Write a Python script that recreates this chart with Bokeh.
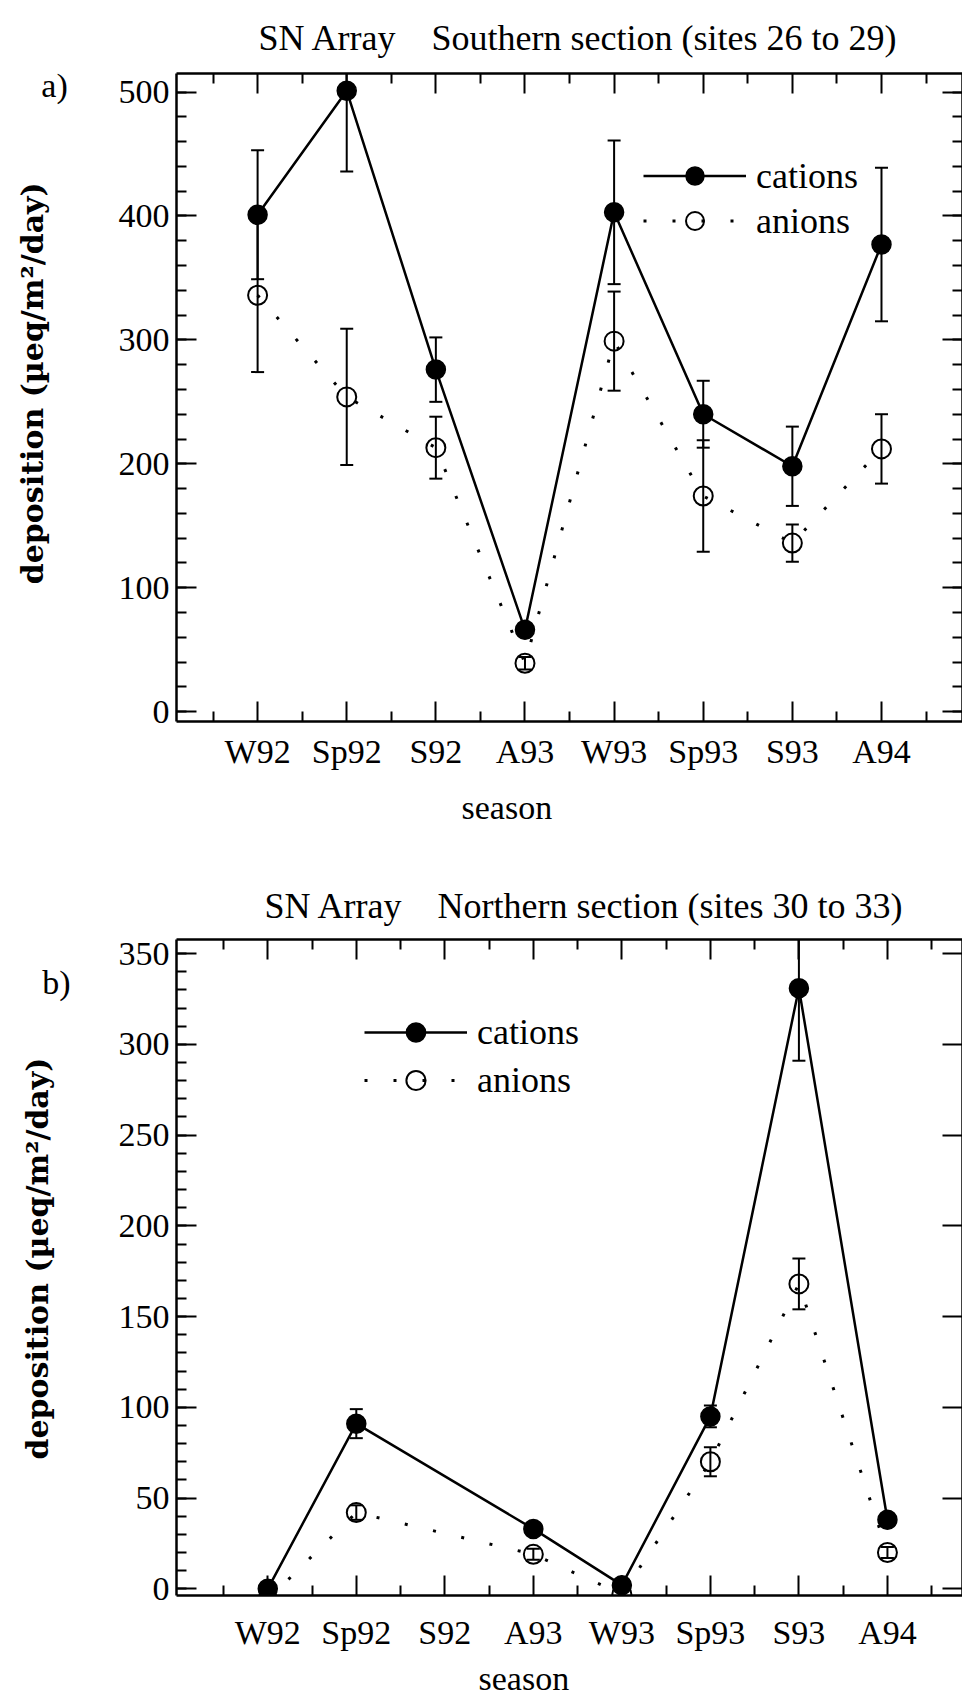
import math
from bokeh.plotting import figure
from bokeh.models import (ColumnDataSource, FixedTicker, LinearAxis, Legend,
                          LegendItem, Title, Label, Range1d)
from bokeh.layouts import column, row
from bokeh.embed import file_html
from bokeh.resources import INLINE

# ---------------- data ----------------
seasons = ["W92", "Sp92", "S92", "A93", "W93", "Sp93", "S93", "A94"]
season_pos = [1, 2, 3, 4, 5, 6, 7, 8]

# a) Southern section (sites 26 to 29)
south_cations = [401, 501, 276, 66, 403, 240, 198, 377]
south_cations_err = [52, 65, 26, 0, 58, 27, 32, 62]
south_anions = [336, 254, 213, 39, 299, 174, 136, 212]
south_anions_err = [62, 55, 25, 5, 40, 45, 15, 28]

# b) Northern section (sites 30 to 33) - no S92 value
north_cations = [0, 91, None, 33, 2, 95, 331, 38]
north_cations_err = [0, 8, None, 0, 0, 6, 40, 0]
north_anions = [-6, 42, None, 19, -3, 70, 168, 20]
north_anions_err = [0, 4, None, 3, 0, 8, 14, 3]

south_y_major = [0, 100, 200, 300, 400, 500]
south_y_minor = list(range(0, 501, 20))
north_y_major = [0, 50, 100, 150, 200, 250, 300, 350]
north_y_minor = list(range(0, 351, 10))

y_label = "deposition (\u00b5eq/m\u00b2/day)"

SERIF = "Liberation Serif"
FS = "34px"
H = 850          # height of each panel row
SIDE_W = 90      # width of the side strip holding the y label and panel tag


def make_source(vals, errs, with_err_only=False):
    d = dict(x=[], y=[], lo=[], hi=[])
    for xk, v, e in zip(season_pos, vals, errs):
        if v is None:
            continue
        if with_err_only and not e:
            continue
        d["x"].append(xk)
        d["y"].append(v)
        d["lo"].append(v - e)
        d["hi"].append(v + e)
    return ColumnDataSource(d)


def style_axis(ax):
    ax.axis_line_width = 2.5
    ax.axis_line_color = "black"
    ax.major_tick_line_width = 2
    ax.minor_tick_line_width = 2
    ax.major_tick_line_color = "black"
    ax.minor_tick_line_color = "black"
    ax.major_tick_in = 20
    ax.major_tick_out = 0
    ax.minor_tick_in = 10
    ax.minor_tick_out = 0
    ax.major_label_text_font = SERIF
    ax.major_label_text_font_size = FS
    ax.major_label_text_color = "black"


def side_strip(main, tag, tag_xy, ylab_xy):
    # shares the main panel's y range, so its frame lines up with the main frame
    s = figure(width=SIDE_W, height=H, output_backend="svg", toolbar_location=None,
               x_range=Range1d(0, SIDE_W), y_range=main.y_range,
               x_axis_type=None, y_axis_type=None,
               min_border=0, min_border_left=0, min_border_right=0)
    s.outline_line_color = None
    s.grid.visible = False
    s.add_layout(Label(x=tag_xy[0], y=tag_xy[1], text=tag, text_font=SERIF,
                       text_font_size=FS, text_align="center",
                       text_baseline="middle", text_color="black"))
    s.add_layout(Label(x=ylab_xy[0], y=ylab_xy[1], text=y_label,
                       angle=math.pi / 2, text_font="DejaVu Serif",
                       text_font_size="30px", text_font_style="bold",
                       text_align="center", text_baseline="middle",
                       text_color="black"))
    return s


def make_panel(title_text, cat, cat_err, an, an_err,
               yr, y_major, y_minor, right_minor, xr, b_top, b_bottom,
               legend_loc, legend_row, title_offset, title_standoff,
               tick_standoff, season_offset, season_standoff):
    p = figure(width=962 - SIDE_W, height=H, output_backend="svg",
               toolbar_location=None,
               x_range=Range1d(*xr), y_range=Range1d(*yr),
               min_border_left=86, min_border_right=0,
               min_border_top=b_top, min_border_bottom=b_bottom)
    p.outline_line_color = None
    p.grid.visible = False
    p.background_fill_color = "white"
    p.border_fill_color = "white"

    bottom = p.below[0]
    left = p.left[0]

    xt = FixedTicker(ticks=season_pos, minor_ticks=[k + 0.5 for k in range(0, 9)])
    bottom.ticker = xt
    bottom.major_label_overrides = {k: s for k, s in zip(season_pos, seasons)}
    left.ticker = FixedTicker(ticks=y_major, minor_ticks=y_minor)

    top = LinearAxis(ticker=xt, major_label_overrides={k: "" for k in season_pos})
    p.add_layout(top, "above")
    right = LinearAxis(ticker=FixedTicker(ticks=y_major,
                                          minor_ticks=y_minor if right_minor else []),
                       major_label_overrides={k: "" for k in y_major})
    p.add_layout(right, "right")

    for ax in (bottom, left, top, right):
        style_axis(ax)
    for ax in (top, right):
        ax.major_label_text_font_size = "1px"
        ax.major_label_standoff = 0

    bottom.major_label_standoff = tick_standoff
    left.major_label_standoff = 7

    p.title = Title(text=title_text, align="left", offset=title_offset,
                    text_font=SERIF, text_font_size="36px", text_font_style="normal",
                    text_color="black", standoff=title_standoff)
    p.add_layout(Title(text="season", align="left", offset=season_offset,
                       text_font=SERIF, text_font_size=FS, text_font_style="normal",
                       text_color="black", standoff=season_standoff), "below")

    cs = make_source(cat, cat_err)
    ans = make_source(an, an_err)
    cse = make_source(cat, cat_err, True)
    ase = make_source(an, an_err, True)

    for s in (ase, cse):
        p.segment(x0="x", y0="lo", x1="x", y1="hi", source=s,
                  line_color="black", line_width=2)
        p.scatter(x="x", y="lo", source=s, marker="dash", size=13,
                  line_color="black", line_width=2)
        p.scatter(x="x", y="hi", source=s, marker="dash", size=13,
                  line_color="black", line_width=2)

    cl = p.line(x="x", y="y", source=cs, line_color="black", line_width=2.5)
    al = p.line(x="x", y="y", source=ans, line_color="black", line_width=3,
                line_dash="3 26")
    cm = p.scatter(x="x", y="y", source=cs, marker="circle", size=19,
                   fill_color="black", line_color="black", line_width=1.5)
    am = p.scatter(x="x", y="y", source=ans, marker="circle", size=19,
                   fill_color=None, line_color="black", line_width=2)

    legend = Legend(items=[LegendItem(label="cations", renderers=[cl, cm]),
                           LegendItem(label="anions", renderers=[al, am])],
                    location=legend_loc, orientation="vertical",
                    glyph_width=103, glyph_height=legend_row, spacing=0,
                    label_standoff=10, label_height=legend_row,
                    padding=0, margin=0,
                    label_text_font=SERIF, label_text_font_size="36px",
                    label_text_color="black",
                    background_fill_alpha=0, border_line_alpha=0)
    p.add_layout(legend, "center")
    return p


# frame left edge sits at x = 176 px on the page (90 px strip + 86 px border)
pa = make_panel("SN Array\u00a0\u00a0\u00a0\u00a0Southern section (sites 26 to 29)",
                south_cations, south_cations_err, south_anions, south_anions_err,
                (-8, 515), south_y_major, south_y_minor, True,
                (0.09, 8.909), 72, 129,
                (467, 478), 45, 82, 31, 11, 285, 28)
sa = side_strip(pa, "a)", (54, 505), (32, 265))

pb = make_panel("SN Array\u00a0\u00a0\u00a0\u00a0Northern section (sites 30 to 33)",
                north_cations, north_cations_err, north_anions, north_anions_err,
                (-3.7, 357.8), north_y_major, north_y_minor, False,
                (-0.031, 8.848), 89, 104,
                (188, 491), 48, 88, 28, 18, 302, 8)
sb = side_strip(pb, "b)", (56, 334), (37, 182))

layout = column(row(sa, pa, spacing=0), row(sb, pb, spacing=0), spacing=0)

with open("out.html", "w") as f:
    f.write(file_html(layout, INLINE))
